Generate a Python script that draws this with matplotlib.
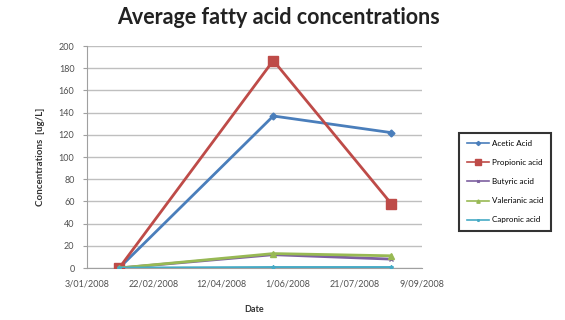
import matplotlib
matplotlib.use("Agg")
import matplotlib.pyplot as plt
from datetime import date, timedelta

sample_dates = [date(2008, 1, 27), date(2008, 5, 21), date(2008, 8, 17)]
acetic = [0, 137, 122]
propionic = [0, 187, 58]
butyric = [0, 12, 8]
valerianic = [0, 13, 11]
capronic = [0, 0.5, 0.5]

series_names = ["Acetic Acid", "Propionic acid", "Butyric acid",
                "Valerianic acid", "Capronic acid"]
y_ticks = list(range(0, 201, 20))
x_start = date(2008, 1, 3)
x_end = date(2008, 9, 9)
x_step_days = 50

plt.rcParams['font.family'] = ['Lato', 'DejaVu Sans']

fig = plt.figure(figsize=(5.65, 3.2), dpi=100)
ax = fig.add_axes([0.154, 0.1625, 0.593, 0.6935])

styles = [
    dict(color="#4A7EBB", marker="D", markersize=3.5),
    dict(color="#BE4B48", marker="s", markersize=7),
    dict(color="#7D60A0", marker="x", markersize=3),
    dict(color="#98B954", marker="^", markersize=4),
    dict(color="#46AAC5", marker="*", markersize=3),
]
for vals, name, st in zip([acetic, propionic, butyric, valerianic, capronic],
                          series_names, styles):
    ax.plot(sample_dates, vals, label=name, linewidth=2.0, zorder=3, **st)

ax.set_xlim(x_start, x_end)
ticks = [x_start + timedelta(days=x_step_days * i) for i in range(6)]
ax.set_xticks(ticks)
ax.set_xticklabels([f"{d.day}/{d.month:02d}/{d.year}" for d in ticks],
                   fontsize=6.5, color="#505050")
ax.set_ylim(0, 200)
ax.set_yticks(y_ticks)
ax.set_yticklabels([str(v) for v in y_ticks], fontsize=6.5, color="#505050")

ax.yaxis.grid(True, color="#BFBFBF", linewidth=1.0)
ax.set_axisbelow(True)
for s in ["top", "right"]:
    ax.spines[s].set_visible(False)
ax.spines["left"].set_color("#A0A0A0")
ax.spines["bottom"].set_color("#A0A0A0")
ax.tick_params(axis="y", length=3, color="#A0A0A0", pad=6)
ax.tick_params(axis="x", length=0, pad=8)

ax.set_xlabel("Date", fontsize=6.5, fontweight="bold", color="#333333", labelpad=12)
ax.set_ylabel("Concentrations  [ug/L]", fontsize=7, fontweight="bold",
              color="#333333", labelpad=10)

fig.text(0.493, 0.944, "Average fatty acid concentrations", ha="center",
         va="center", fontsize=15.5, fontweight="bold", color="#222222")

leg = fig.legend(loc="center", bbox_to_anchor=(0.894, 0.432), fontsize=5.8,
                 frameon=True, fancybox=False, handlelength=2.8,
                 borderpad=0.9, labelspacing=1.5, handletextpad=0.4,
                 markerscale=0.6)
leg.get_frame().set_edgecolor("black")
leg.get_frame().set_linewidth(1.5)
for line in leg.get_lines():
    line.set_linewidth(1.2)

fig.savefig("out.png", dpi=100, facecolor="white")
